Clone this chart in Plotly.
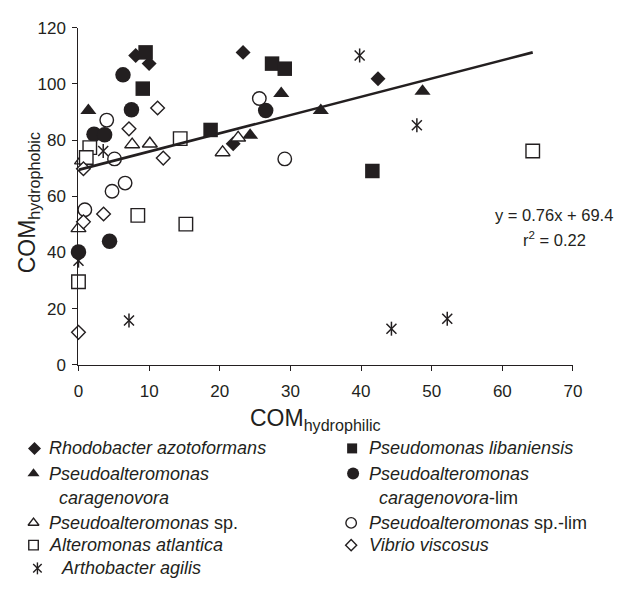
import plotly.graph_objects as go

# ---------------- data ----------------
rhodo_x = [8.1, 10.0, 23.3, 42.4, 21.9]
rhodo_y = [110.1, 107.2, 111.2, 101.8, 78.7]

plib_x = [9.5, 9.1, 18.7, 27.4, 29.2, 41.6]
plib_y = [111.2, 98.3, 83.6, 107.2, 105.4, 69.0]

pcar_x = [1.4, 24.3, 28.7, 34.3, 48.7]
pcar_y = [90.5, 81.7, 96.6, 90.5, 97.4]

pcarlim_x = [6.3, 7.5, 2.2, 3.7, 26.5, 4.4, 0.0]
pcarlim_y = [103.2, 90.8, 82.1, 81.9, 90.5, 44.0, 40.2]

psp_x = [0.5, 0.0, 7.6, 10.1, 20.4, 22.6]
psp_y = [72.7, 48.6, 78.4, 78.7, 75.6, 80.8]

psplim_x = [4.0, 5.1, 25.6, 29.2, 4.75, 6.6, 0.9]
psplim_y = [87.1, 73.3, 94.8, 73.3, 61.8, 64.7, 55.2]

alt_x = [1.6, 1.1, 14.4, 8.4, 15.2, 0.0, 64.3]
alt_y = [77.3, 73.8, 80.5, 53.2, 50.1, 29.6, 76.1]

vib_x = [11.2, 7.15, 0.7, 12.0, 3.55, 0.7, 0.0]
vib_y = [91.4, 84.0, 69.8, 73.6, 53.7, 50.9, 11.6]

arth_x = [3.5, 39.8, 47.9, 0.0, 7.15, 44.3, 52.2]
arth_y = [76.1, 110.1, 85.3, 37.1, 15.8, 12.9, 16.4]

trend_x = [0.0, 64.3]
trend_y = [69.4, 111.2]

x_ticks = [0, 10, 20, 30, 40, 50, 60, 70]
y_ticks = [0, 20, 40, 60, 80, 100, 120]

x_title = "COM<sub>hydrophilic</sub>"
y_title = "COM<sub>hydrophobic</sub>"
eq_line1 = "y = 0.76x + 69.4"
eq_line2 = "r<sup>2</sup> = 0.22"

legend_labels = [
    ["<i>Rhodobacter azotoformans</i>"],
    ["<i>Pseudomonas libaniensis</i>"],
    ["<i>Pseudoalteromonas</i>", "<i>caragenovora</i>"],
    ["<i>Pseudoalteromonas</i>", "<i>caragenovora</i>-lim"],
    ["<i>Pseudoalteromonas</i> sp."],
    ["<i>Pseudoalteromonas</i> sp.-lim"],
    ["<i>Alteromonas atlantica</i>"],
    ["<i>Vibrio viscosus</i>"],
    ["<i>Arthobacter agilis</i>"],
]

# ---------------- styling / layout ----------------
# the page body adds an 8px margin, so everything is laid out 8px up/left
W, H = 617, 581
INK = "#231f20"
FONT = "Liberation Sans, Arial, Helvetica, sans-serif"
PX0, PX1 = 67.0, 573.0   # plot area left/right (px)
PY0, PY1 = 11.0, 359.7   # plot area top/bottom (px)

fig = go.Figure()

# style per series: (x, y, symbol, size, filled, legend marker size)
series = [
    (rhodo_x, rhodo_y, "diamond", 11.5, True, 10),
    (plib_x, plib_y, "square", 14.5, True, 10),
    (pcar_x, pcar_y, "triangle-up", 14, True, 10.5),
    (pcarlim_x, pcarlim_y, "circle", 15.5, True, 12),
    (psp_x, psp_y, "triangle-up", 13, False, 9.5),
    (psplim_x, psplim_y, "circle", 13.5, False, 10.5),
    (alt_x, alt_y, "square", 13.5, False, 9.5),
    (vib_x, vib_y, "diamond", 10.5, False, 8.5),
]


def marker_style(symbol, size, filled):
    return dict(symbol=symbol, size=size,
                color=INK if filled else "white",
                line=dict(width=0 if filled else 1.4, color=INK))


for xs, ys, sym, sz, filled, _ in series:
    fig.add_trace(go.Scatter(x=xs, y=ys, mode="markers", cliponaxis=False,
                             showlegend=False, hoverinfo="x+y",
                             marker=marker_style(sym, sz, filled)))

# six-armed asterisk = X + vertical bar
for sym in ["x-thin-open", "line-ns-open"]:
    fig.add_trace(go.Scatter(x=arth_x, y=arth_y, mode="markers", cliponaxis=False,
                             showlegend=False, hoverinfo="x+y",
                             marker=dict(symbol=sym, size=10, color=INK,
                                         line=dict(width=1.5, color=INK))))

# regression line
fig.add_trace(go.Scatter(x=trend_x, y=trend_y, mode="lines", showlegend=False,
                         hoverinfo="skip", line=dict(color=INK, width=2.6)))

# ---------------- custom legend in a pixel-coordinate overlay ----------------
leg_rows = [446, 446, 472, 472, 523, 523, 546, 546, 570]
leg_mx = [22, 347, 21, 348, 21, 346, 21, 346, 25]
leg_tx = [35, 362, 35, 362, 35, 362, 35, 362, 47]
leg_tx2 = [None, None, 45, 372, None, None, None, None, None]
LINE2 = 25
LEG_FONT = dict(size=18, color=INK, family=FONT)

annotations = []
for i, lab in enumerate(legend_labels):
    if i < len(series):
        _, _, sym, _, filled, lsz = series[i]
        fig.add_trace(go.Scatter(x=[leg_mx[i]], y=[leg_rows[i]], mode="markers",
                                 xaxis="x2", yaxis="y2", showlegend=False,
                                 hoverinfo="skip", cliponaxis=False,
                                 marker=marker_style(sym, lsz, filled)))
    else:
        for sym in ["x-thin-open", "line-ns-open"]:
            fig.add_trace(go.Scatter(x=[leg_mx[i]], y=[leg_rows[i]], mode="markers",
                                     xaxis="x2", yaxis="y2", showlegend=False,
                                     hoverinfo="skip", cliponaxis=False,
                                     marker=dict(symbol=sym, size=8.5, color=INK,
                                                 line=dict(width=1.4, color=INK))))
    annotations.append(dict(x=leg_tx[i], y=leg_rows[i], xref="x2", yref="y2",
                            text=lab[0], showarrow=False, xanchor="left",
                            yanchor="middle", font=LEG_FONT))
    if len(lab) > 1:
        annotations.append(dict(x=leg_tx2[i], y=leg_rows[i] + LINE2, xref="x2", yref="y2",
                                text=lab[1], showarrow=False, xanchor="left",
                                yanchor="middle", font=LEG_FONT))

# equation
annotations.append(dict(x=554, y=205, xref="x2", yref="y2", text=eq_line1,
                        showarrow=False, xanchor="center", yanchor="middle",
                        font=dict(size=16.5, color=INK, family=FONT)))
annotations.append(dict(x=554, y=229, xref="x2", yref="y2", text=eq_line2,
                        showarrow=False, xanchor="center", yanchor="middle",
                        font=dict(size=16.5, color=INK, family=FONT)))

# axis titles
annotations.append(dict(x=310, y=416, xref="x2", yref="y2", text=x_title,
                        showarrow=False, xanchor="center", yanchor="middle",
                        font=dict(size=23, color=INK, family=FONT)))
annotations.append(dict(x=16, y=192, xref="x2", yref="y2", text=y_title,
                        showarrow=False, xanchor="center", yanchor="middle",
                        textangle=-90, font=dict(size=23, color=INK, family=FONT)))

axis_common = dict(showline=True, linecolor=INK, linewidth=1.3, ticks="outside",
                   ticklen=5, tickwidth=1.3, tickcolor=INK, showgrid=False,
                   zeroline=False, fixedrange=True,
                   tickfont=dict(size=17, color=INK, family=FONT))

fig.update_layout(
    width=W, height=H, margin=dict(l=0, r=0, t=0, b=0),
    paper_bgcolor="white", plot_bgcolor="rgba(0,0,0,0)",
    font=dict(family=FONT, color=INK),
    xaxis=dict(domain=[PX0 / W, PX1 / W], range=[0, 70], tickvals=x_ticks,
               ticklabelstandoff=6, anchor="y", **axis_common),
    yaxis=dict(domain=[(H - PY1) / H, (H - PY0) / H], range=[0, 120], tickvals=y_ticks,
               ticklabelstandoff=3, anchor="x", **axis_common),
    xaxis2=dict(domain=[0, 1], range=[0, W], visible=False, anchor="y2", fixedrange=True),
    yaxis2=dict(domain=[0, 1], range=[H, 0], visible=False, anchor="x2", fixedrange=True),
    annotations=annotations,
    showlegend=False,
)

fig.write_html("out.html")
